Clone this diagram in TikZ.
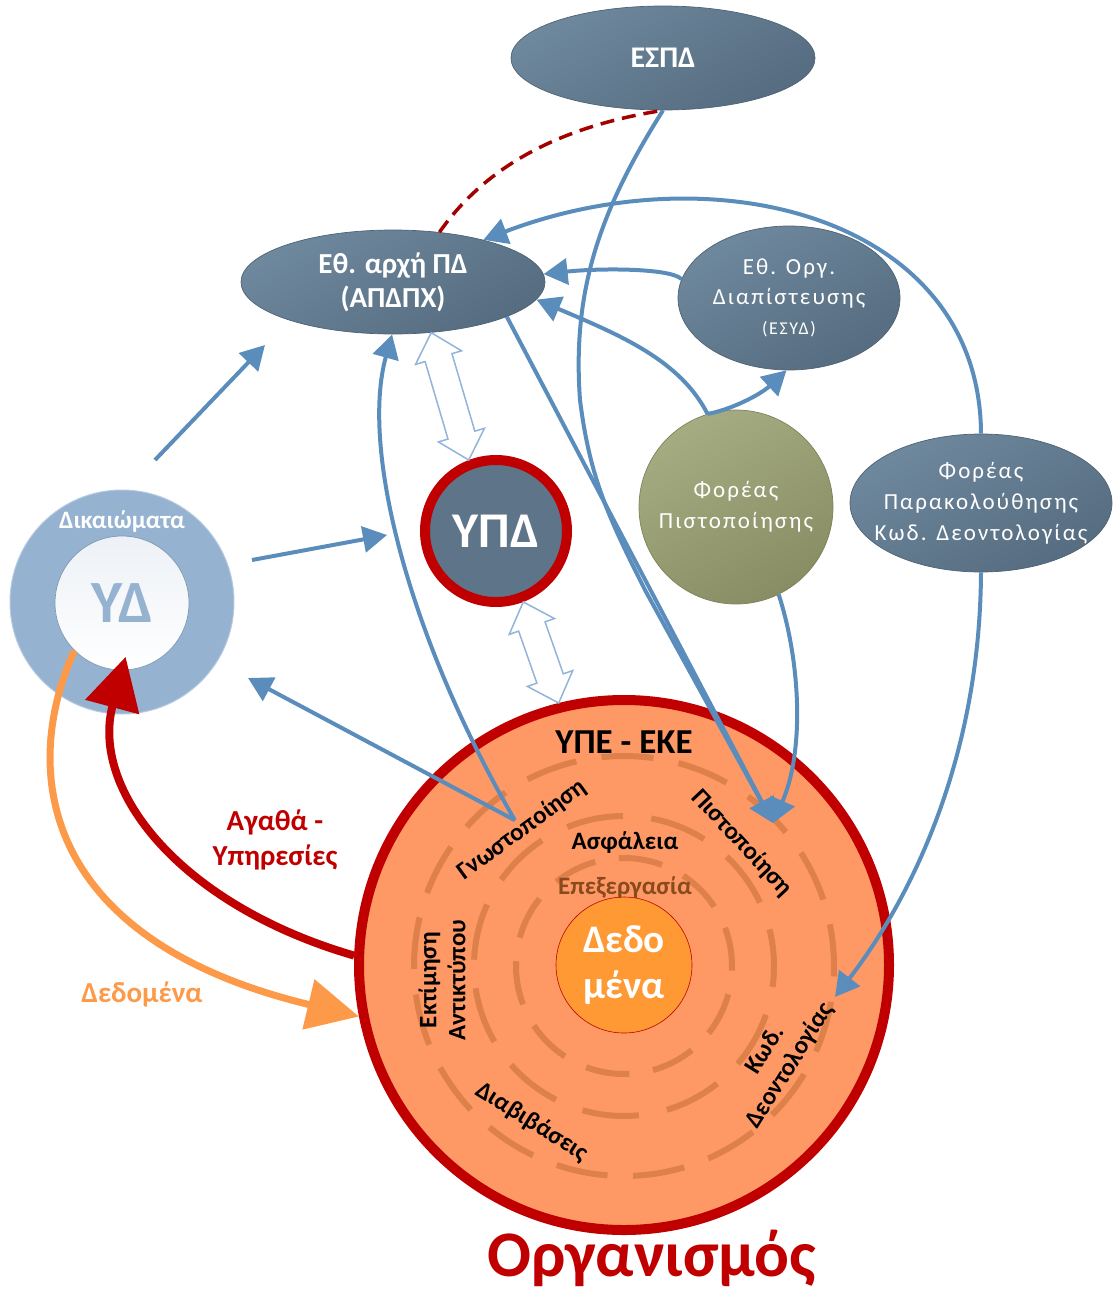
\documentclass[tikz,border=0pt]{standalone}
\usepackage{fontspec}
\setmainfont{Carlito}
\newfontfamily\widefont[LetterSpace=9]{Carlito}
\usetikzlibrary{shapes.geometric, arrows.meta, calc, positioning}

\definecolor{slatetop}{HTML}{6E889D}
\definecolor{slatebot}{HTML}{566C80}
\definecolor{slateedge}{HTML}{4E6275}
\definecolor{olivetop}{HTML}{A6AC82}
\definecolor{olivebot}{HTML}{888D63}
\definecolor{oliveedge}{HTML}{7D8259}
\definecolor{rightsblue}{HTML}{95B3D1}
\definecolor{ydinner}{HTML}{EDF1F6}
\definecolor{linkblue}{HTML}{5A8DBB}
\definecolor{hollowblue}{HTML}{93B4DA}
\definecolor{orgred}{HTML}{C00000}
\definecolor{dashred}{HTML}{A30000}
\definecolor{orgfill}{HTML}{FE9966}
\definecolor{ringdash}{HTML}{DD8049}
\definecolor{datafill}{HTML}{FF9933}
\definecolor{procbrown}{HTML}{8A4A1E}
\definecolor{dataorange}{HTML}{FD9A4A}
\definecolor{ypdfill}{HTML}{5E7488}

% double headed hollow arrow between two points
\newcommand\hollowlink[2]{%
  \path let \p1=(#1), \p2=(#2) in
    \pgfextra{\pgfmathsetmacro\hlang{atan2(\y2-\y1,\x2-\x1)}%
              \pgfmathsetmacro\hllen{veclen(\x2-\x1,\y2-\y1)}%
              \global\let\hlang\hlang \global\let\hllen\hllen};
  \begin{scope}[shift={(#1)}, rotate=\hlang]
    \draw[hollow] (0pt,0pt) -- (26pt,24pt) -- (26pt,14pt) -- ({\hllen*1pt-26pt},14pt)
      -- ({\hllen*1pt-26pt},24pt) -- ({\hllen*1pt},0pt) -- ({\hllen*1pt-26pt},-24pt)
      -- ({\hllen*1pt-26pt},-14pt) -- (26pt,-14pt) -- (26pt,-24pt) -- cycle;
  \end{scope}}

\begin{document}
\begin{tikzpicture}[x=1pt, y=-1pt,
    slate/.style={ellipse, draw=slateedge, line width=.7pt, top color=slatetop,
      bottom color=slatebot, shading angle=30, text=white, align=center, inner sep=0pt},
    olive/.style={circle, draw=oliveedge, line width=.7pt, top color=olivetop,
      bottom color=olivebot, shading angle=30, text=white, align=center, inner sep=0pt},
    ringline/.style={draw=ringdash, line width=6pt},
    ringtext/.style={font=\fontsize{25}{29}\selectfont\bfseries, inner sep=1pt},
    bluearrow/.style={draw=linkblue, line width=4pt, -{Triangle[length=24pt,width=26pt]}},
    hollow/.style={draw=hollowblue, fill=white, line width=1.5pt, line join=miter},
    dashlink/.style={draw=dashred, line width=3.5pt, dash pattern=on 14pt off 8pt},
    goodsarrow/.style={draw=orgred, line width=8pt, -{Triangle[length=52pt,width=54pt]}},
    dataarrow/.style={draw=dataorange, line width=7pt, -{Triangle[length=52pt,width=50pt]}}]
  \useasboundingbox (0,0) rectangle (1112,1293);

  % authorities
  \node (espd) [slate, minimum width=304pt, minimum height=104pt,
    font=\fontsize{30}{30}\selectfont\bfseries] at (663,58) {ΕΣΠΔ};
  \node (apdpx) [slate, minimum width=304pt, minimum height=104pt,
    font=\fontsize{29}{34}\selectfont\bfseries] at (393,282) {Εθ. αρχή ΠΔ\\(ΑΠΔΠΧ)};
  \node (esyd) [slate, minimum width=222pt, minimum height=144pt, inner sep=-10pt,
    font=\widefont\fontsize{23}{30}\selectfont] at (789,298)
    {Εθ. Οργ.\\Διαπίστευσης\\{\fontsize{18}{20}\selectfont(ΕΣΥΔ)}};
  \node (fp) [olive, minimum size=194pt, inner sep=-10pt,
    font=\widefont\fontsize{23}{31}\selectfont] at (736,507) {Φορέας\\Πιστοποίησης};
  \node (fpk) [slate, minimum width=262pt, minimum height=138pt, inner sep=-22pt,
    font=\widefont\fontsize{23}{31}\selectfont] at (981,503)
    {Φορέας\\Παρακολούθησης\\Κωδ. Δεοντολογίας};

  % data subject
  \node (yd) [circle, fill=rightsblue, draw=rightsblue!70!white, line width=1pt,
    minimum size=224pt] at (122,602) {};
  \node (ydin) [circle, draw=rightsblue!85!black, line width=.7pt, top color=ydinner,
    bottom color=white, minimum size=134pt, text=rightsblue,
    font=\fontsize{60}{60}\selectfont\bfseries] at (122,603) {ΥΔ};
  \node (rights) [text=white, font=\fontsize{25}{25}\selectfont\bfseries]
    at (122,522) {Δικαιώματα};

  % dpo
  \node (ypd) [circle, fill=ypdfill, draw=orgred, line width=10pt, minimum size=142pt,
    inner sep=0pt, text=white, font=\fontsize{50}{50}\selectfont\bfseries] at (496,531) {ΥΠΔ};

  % organisation
  \node (org) [circle, fill=orgfill, draw=orgred, line width=10pt, minimum size=530pt]
    at (624,965) {};
  \draw[ringline, dash pattern=on 52pt off 25.6pt, dash phase=10pt] (624,966) circle[radius=210pt];
  \draw[ringline, dash pattern=on 57pt off 28.6pt, dash phase=20pt] (624,966) circle[radius=150pt];
  \draw[ringline, dash pattern=on 44pt off 23.9pt, dash phase=5pt] (624,966) circle[radius=108pt];
  \node (data) [circle, fill=datafill, draw=orgred, line width=.6pt, minimum size=136pt,
    text=white, align=center, font=\fontsize{39}{46}\selectfont\bfseries] at (624,965) {Δεδο\\μένα};

  \node (ypeeke) [font=\fontsize{35}{35}\selectfont\bfseries] at (624,742) {ΥΠΕ - ΕΚΕ};
  \node (gnwst) [ringtext, rotate=36] at (522,830) {Γνωστοποίηση};
  \node (pistop) [ringtext, rotate=-47] at (742,843) {Πιστοποίηση};
  \node (asfal) [ringtext] at (625,843) {Ασφάλεια};
  \node (epex) [ringtext, text=procbrown] at (625,888) {Επεξεργασία};
  \node (ektim) [ringtext, rotate=90, align=center] at (442,980) {Εκτίμηση\\Αντικτύπου};
  \node (diav) [ringtext, rotate=-32] at (532,1122) {Διαβιβάσεις};
  \node (kwd) [ringtext, rotate=58, align=center] at (778,1058) {Κωδ.\\Δεοντολογίας};
  \node (orgname) [text=orgred, inner sep=0pt, font=\fontsize{65}{65}\selectfont\bfseries]
    at (652,1258) {Οργανισμός};

  \node (goods) [text=orgred, align=center, font=\fontsize{29}{35}\selectfont\bfseries]
    at (275,840) {Αγαθά -\\Υπηρεσίες};
  \node (datalbl) [text=dataorange, font=\fontsize{29}{29}\selectfont\bfseries]
    at (142,994) {Δεδομένα};

  % free ends
  \coordinate (ydup) at (155,460);
  \coordinate (ydupend) at (265,345);
  \coordinate (ydright) at (252,560);
  \coordinate (ydrightend) at (387,535);
  \coordinate (gnwend) at (248,678);
  \coordinate (pstip) at (773,823);
  \coordinate (kwdtip) at (835,997);

  % links
  \draw[bluearrow] (ydup) -- (ydupend);
  \draw[bluearrow] (ydright) -- (ydrightend);
  \draw[bluearrow] (gnwst.north) -- (gnwend);
  \draw[bluearrow] (gnwst.north) .. controls (410,640) and (360,450) .. (apdpx.-91);
  \draw[bluearrow] (apdpx.-17) -- (pstip);
  \draw[bluearrow] (espd.south) .. controls (600,210) and (572,290) .. (580,400)
    .. controls (590,480) and (610,520) .. (645,590) -- (pstip);
  \draw[bluearrow] (fp.107) .. controls (680,360) and (620,335) .. (apdpx.-7);
  \draw[bluearrow] (fp.107) .. controls (730,410) and (760,395) .. (esyd.-92);
  \draw[bluearrow] (esyd.170) .. controls (670,268) and (600,268) .. (apdpx.3);
  \draw[bluearrow] (fpk.north) .. controls (980,220) and (720,150) .. (apdpx.25);
  \draw[bluearrow] (fpk.south) .. controls (980,760) and (910,900) .. (kwdtip);
  \draw[bluearrow] (fp.-64) .. controls (800,660) and (805,750) .. (pstip);

  \draw[dashlink] (apdpx.47) .. controls (490,160) and (570,125) .. (espd.south);

  \draw[goodsarrow, shorten >=-14pt] (org.178) .. controls (180,905) and (90,790) .. (ydin.-90);
  \draw[dataarrow] (ydin.225) .. controls (20,770) and (40,940) .. (org.191);

  \hollowlink{apdpx.-53.5}{ypd.111.5}
  \hollowlink{ypd.-69}{org.104.8}
\end{tikzpicture}
\end{document}
